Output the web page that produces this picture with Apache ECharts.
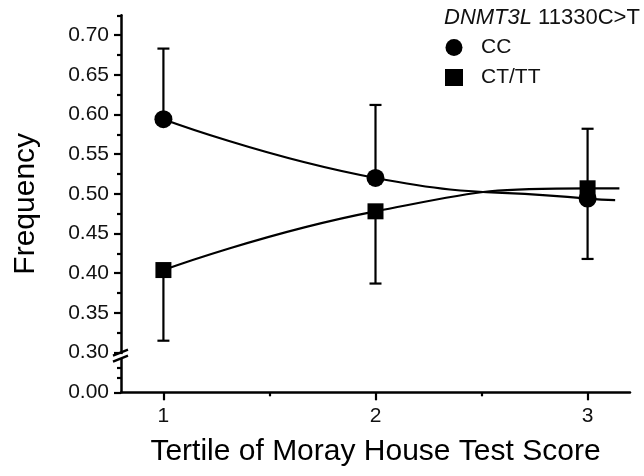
<!DOCTYPE html>
<html><head><meta charset="utf-8">
<script src="https://cdn.jsdelivr.net/npm/echarts@6/dist/echarts.min.js"></script>
<style>html,body{margin:0;padding:0;background:#fff}#c{width:644px;height:476px}</style>
</head><body><div id="c"></div>
<script>
// ---- data ----
const tertiles = [1, 2, 3];
const ccMean  = [0.594, 0.520, 0.494];
const ccUpper = [0.683, 0.612, 0.582];
const ctMean  = [0.404, 0.478, 0.507];
const ctLower = [0.315, 0.387, 0.418];
// fitted curve traces (incl. the short extension past tertile 3)
const ccCurveX = [1, 2, 3, 3.13];
const ccCurveY = [0.594, 0.520, 0.494, 0.492];
const ctCurveX = [1, 2, 3, 3.15];
const ctCurveY = [0.404, 0.478, 0.507, 0.507];
// broken y axis: the position 0.25 carries the label 0.00
const yTickValues = [0.25, 0.30, 0.35, 0.40, 0.45, 0.50, 0.55, 0.60, 0.65, 0.70];
const yTickLabels = ['0.00', '0.30', '0.35', '0.40', '0.45', '0.50', '0.55', '0.60', '0.65', '0.70'];
const yMinorTicks = [0.268, 0.281, 0.325, 0.375, 0.425, 0.475, 0.525, 0.575, 0.625, 0.675, 0.725];
const xTickValues = [1, 2, 3];
const xMinorTicks = [1.5, 2.5];
const seriesNames = ['CC', 'CT/TT'];

const FONT = '"Liberation Sans", Arial, sans-serif';
const chart = echarts.init(document.getElementById('c'), null, {renderer: 'canvas'});

function zipXY(xs, ys) { return xs.map((x, i) => [x, ys[i]]); }

function errorBar(capAtTop) {
  return function (params, api) {
    const x = api.value(0), lo = api.value(1), hi = api.value(2);
    const pLo = api.coord([x, lo]), pHi = api.coord([x, hi]);
    const capY = capAtTop ? pHi[1] : pLo[1];
    const st = {stroke: '#000', lineWidth: 2.2};
    return {type: 'group', children: [
      {type: 'line', shape: {x1: pLo[0], y1: pLo[1], x2: pHi[0], y2: pHi[1]}, style: st},
      {type: 'line', shape: {x1: pLo[0] - 6, y1: capY, x2: pLo[0] + 6, y2: capY}, style: st}
    ]};
  };
}

const yLab = v => {
  const i = yTickValues.findIndex(t => Math.abs(t - v) < 1e-6);
  return i >= 0 ? yTickLabels[i] : '';
};

const option = {
  backgroundColor: '#fff',
  animation: false,
  textStyle: {fontFamily: FONT},
  title: {
    text: '{i|DNMT3L} 11330C>T',
    left: 444, top: 7, padding: 0,
    textStyle: {fontFamily: FONT, fontSize: 22, fontWeight: 'normal', color: '#111',
      rich: {i: {fontFamily: FONT, fontSize: 22, fontStyle: 'italic', color: '#111'}}}
  },
  legend: {
    orient: 'vertical', left: 445, top: 37, padding: 0,
    itemWidth: 18, itemHeight: 17, itemGap: 9,
    data: seriesNames,
    textStyle: {fontFamily: FONT, fontSize: 21, color: '#111', padding: [0, 0, 0, 13]}
  },
  grid: {left: 121, right: 14, top: 15.25, bottom: 83.7, containLabel: false},
  xAxis: [{
    type: 'value', min: 0.8, max: 3.2, position: 'bottom',
    axisLine: {show: true, onZero: false, lineStyle: {color: '#000', width: 2.5}},
    axisTick: {show: true, length: 8, customValues: xTickValues, lineStyle: {color: '#000', width: 2.2}},
    axisLabel: {customValues: xTickValues, fontFamily: FONT, fontSize: 21, color: '#111', margin: 13},
    splitLine: {show: false},
    name: 'Tertile of Moray House Test Score', nameLocation: 'middle', nameGap: 44,
    nameTextStyle: {fontFamily: FONT, fontSize: 30, color: '#000'}
  }, {
    type: 'value', min: 0.8, max: 3.2, position: 'bottom',
    axisLine: {show: false, onZero: false},
    axisTick: {show: true, length: 4, customValues: xMinorTicks, lineStyle: {color: '#000', width: 2.2}},
    axisLabel: {show: false}, splitLine: {show: false}
  }],
  yAxis: [{
    type: 'value', min: 0.25, max: 0.725, position: 'left',
    axisLine: {show: true, onZero: false, lineStyle: {color: '#000', width: 2.5}},
    axisTick: {show: true, length: 7, customValues: yTickValues, lineStyle: {color: '#000', width: 2.2}},
    axisLabel: {customValues: yTickValues, formatter: yLab, fontFamily: FONT, fontSize: 21, color: '#111', margin: 12},
    splitLine: {show: false},
    name: 'Frequency', nameLocation: 'middle', nameGap: 80,
    nameTextStyle: {fontFamily: FONT, fontSize: 30, color: '#000'}
  }, {
    type: 'value', min: 0.25, max: 0.725, position: 'left',
    axisLine: {show: false, onZero: false},
    axisTick: {show: true, length: 4, customValues: yMinorTicks, lineStyle: {color: '#000', width: 2.2}},
    axisLabel: {show: false}, splitLine: {show: false}
  }],
  series: [
    {name: 'ccCurve', type: 'line', smooth: 0.5, showSymbol: false, symbol: 'none',
     data: zipXY(ccCurveX, ccCurveY), lineStyle: {color: '#000', width: 2.2}, z: 2, silent: true},
    {name: 'ctCurve', type: 'line', smooth: 0.5, showSymbol: false, symbol: 'none',
     data: zipXY(ctCurveX, ctCurveY), lineStyle: {color: '#000', width: 2.2}, z: 2, silent: true},
    {name: 'ccErr', type: 'custom', renderItem: errorBar(true),
     data: tertiles.map((x, i) => [x, ccMean[i], ccUpper[i]]), encode: {x: 0, y: [1, 2]}, z: 3},
    {name: 'ctErr', type: 'custom', renderItem: errorBar(false),
     data: tertiles.map((x, i) => [x, ctLower[i], ctMean[i]]), encode: {x: 0, y: [1, 2]}, z: 3},
    {name: seriesNames[0], type: 'scatter', symbol: 'circle', symbolSize: 18,
     itemStyle: {color: '#000', opacity: 1}, data: zipXY(tertiles, ccMean), z: 4},
    {name: seriesNames[1], type: 'scatter', symbol: 'rect', symbolSize: 16,
     itemStyle: {color: '#000', opacity: 1}, data: zipXY(tertiles, ctMean), z: 5}
  ]
};
chart.setOption(option);

// axis-break "//" marker at the 0.30 tick
const p = chart.convertToPixel({gridIndex: 0}, [0.8, 0.30]);
const ax = p[0], ay = p[1];
chart.setOption({graphic: [
  {type: 'rect', shape: {x: ax - 2.5, y: ay + 1.5, width: 5, height: 4}, style: {fill: '#fff'}, z: 100},
  {type: 'line', shape: {x1: ax - 8, y1: ay + 3, x2: ax + 7, y2: ay - 3}, style: {stroke: '#000', lineWidth: 2.2}, z: 101},
  {type: 'line', shape: {x1: ax - 8, y1: ay + 9, x2: ax + 7, y2: ay + 3}, style: {stroke: '#000', lineWidth: 2.2}, z: 101}
]});
</script>
</body></html>
